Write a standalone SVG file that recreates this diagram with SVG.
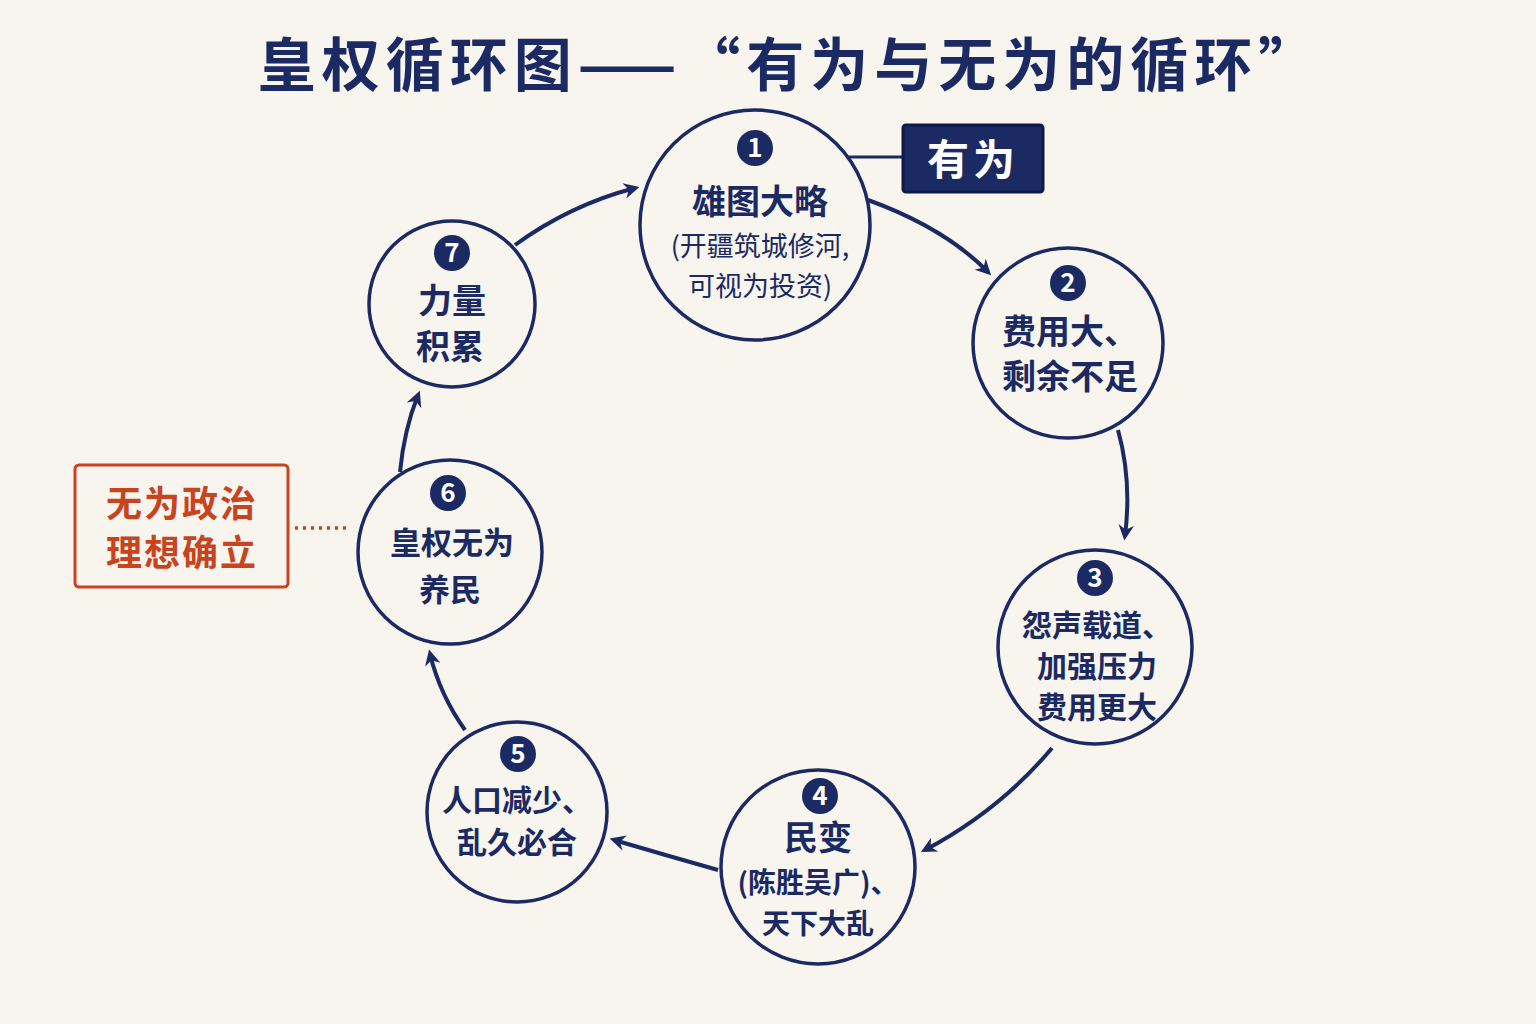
<svg xmlns="http://www.w3.org/2000/svg" width="1536" height="1024" viewBox="0 0 1536 1024">
<defs>
<style>
text{font-family:"Noto Sans CJK SC","Noto Sans",sans-serif;fill:#1b2a63;text-anchor:middle}
.n{fill:none;stroke:#1b2a63;stroke-width:3.5}
.t{font-size:34px;font-weight:bold}
.s{font-size:27px}
.b{fill:#1b2a63}
.bn{fill:#fff;font-size:26px;font-weight:bold}
.c{fill:none;stroke:#1b2a63;stroke-width:4}
</style>
<marker id="a" viewBox="0 0 10 10" refX="8" refY="5" markerWidth="6" markerHeight="6" orient="auto" markerUnits="userSpaceOnUse" style="overflow:visible"><path d="M0,0 L10,5 L0,10 L3,5z" fill="#1b2a63" transform="scale(2.6) translate(-4,-3)"/></marker>
</defs>
<rect width="1536" height="1024" fill="#f8f5ef"/>
<text x="790" y="86" style="font-size:58px;font-weight:bold;letter-spacing:6px">皇权循环图——“有为与无为的循环”</text>
<g id="connectors">
<path class="c" d="M868,200 Q945,228 988,272" marker-end="url(#a)"/>
<path class="c" d="M1118,430 Q1132,480 1125,536" marker-end="url(#a)"/>
<path class="c" d="M1052,748 Q1000,810 925,850" marker-end="url(#a)"/>
<path class="c" d="M718,870 Q665,855 614,840" marker-end="url(#a)"/>
<path class="c" d="M465,730 Q440,695 430,654" marker-end="url(#a)"/>
<path class="c" d="M400,472 Q404,430 418,395" marker-end="url(#a)"/>
<path class="c" d="M515,245 Q570,205 635,188" marker-end="url(#a)"/>
<line x1="848" y1="157" x2="903" y2="157" stroke="#1b2a63" stroke-width="3"/>
<line x1="295" y1="528" x2="350" y2="528" stroke="#c8441e" stroke-width="3.5" stroke-dasharray="3,5"/>
</g>
<g id="n1"><circle class="n" cx="755" cy="225" r="115"/><circle class="b" cx="755" cy="148" r="18"/><text class="bn" x="755" y="157">1</text>
<text class="t" x="760" y="214">雄图大略</text><text class="s" x="760" y="256">(开疆筑城修河,</text><text class="s" x="760" y="296">可视为投资)</text></g>
<g id="youwei"><rect x="903" y="125" width="140" height="67" rx="3" fill="#1b2a63" stroke="#0d1a4a" stroke-width="3"/><text x="973" y="175" style="fill:#fff;font-size:42px;font-weight:bold;letter-spacing:4px">有为</text></g>
<g id="n2"><circle class="n" cx="1068" cy="343" r="95"/><circle class="b" cx="1068" cy="283" r="18"/><text class="bn" x="1068" y="292">2</text>
<text class="t" x="1070" y="344">费用大、</text><text class="t" x="1070" y="389">剩余不足</text></g>
<g id="n3"><circle class="n" cx="1095" cy="647" r="97"/><circle class="b" cx="1095" cy="578" r="18"/><text class="bn" x="1095" y="587">3</text>
<text class="s" style="font-weight:bold;font-size:30px" x="1097" y="636">怨声载道、</text><text class="s" style="font-weight:bold;font-size:30px" x="1097" y="677">加强压力</text><text class="s" style="font-weight:bold;font-size:30px" x="1097" y="718">费用更大</text></g>
<g id="n4"><circle class="n" cx="818" cy="867" r="97"/><circle class="b" cx="820" cy="796" r="18"/><text class="bn" x="820" y="805">4</text>
<text class="t" x="818" y="850">民变</text><text class="s" style="font-weight:bold;font-size:28px" x="818" y="893">(陈胜吴广)、</text><text class="s" style="font-weight:bold;font-size:28px" x="818" y="934">天下大乱</text></g>
<g id="n5"><circle class="n" cx="517" cy="812" r="90"/><circle class="b" cx="518" cy="754" r="18"/><text class="bn" x="518" y="763">5</text>
<text class="s" style="font-weight:bold;font-size:30px" x="517" y="811">人口减少、</text><text class="s" style="font-weight:bold;font-size:30px" x="517" y="853">乱久必合</text></g>
<g id="n6"><circle class="n" cx="450" cy="552" r="92"/><circle class="b" cx="448" cy="493" r="18"/><text class="bn" x="448" y="502">6</text>
<text class="s" style="font-weight:bold;font-size:31px" x="452" y="554">皇权无为</text><text class="s" style="font-weight:bold;font-size:31px" x="450" y="601">养民</text></g>
<g id="n7"><circle class="n" cx="452" cy="304" r="83"/><circle class="b" cx="452" cy="253" r="18"/><text class="bn" x="452" y="262">7</text>
<text class="t" x="452" y="313">力量</text><text class="t" x="450" y="359">积累</text></g>
<g id="wuwei"><rect x="75" y="465" width="213" height="122" rx="4" fill="none" stroke="#c8441e" stroke-width="3"/>
<text x="182" y="517" style="fill:#c8441e;font-size:36px;font-weight:bold;letter-spacing:2px">无为政治</text><text x="182" y="566" style="fill:#c8441e;font-size:36px;font-weight:bold;letter-spacing:2px">理想确立</text></g>
</svg>
